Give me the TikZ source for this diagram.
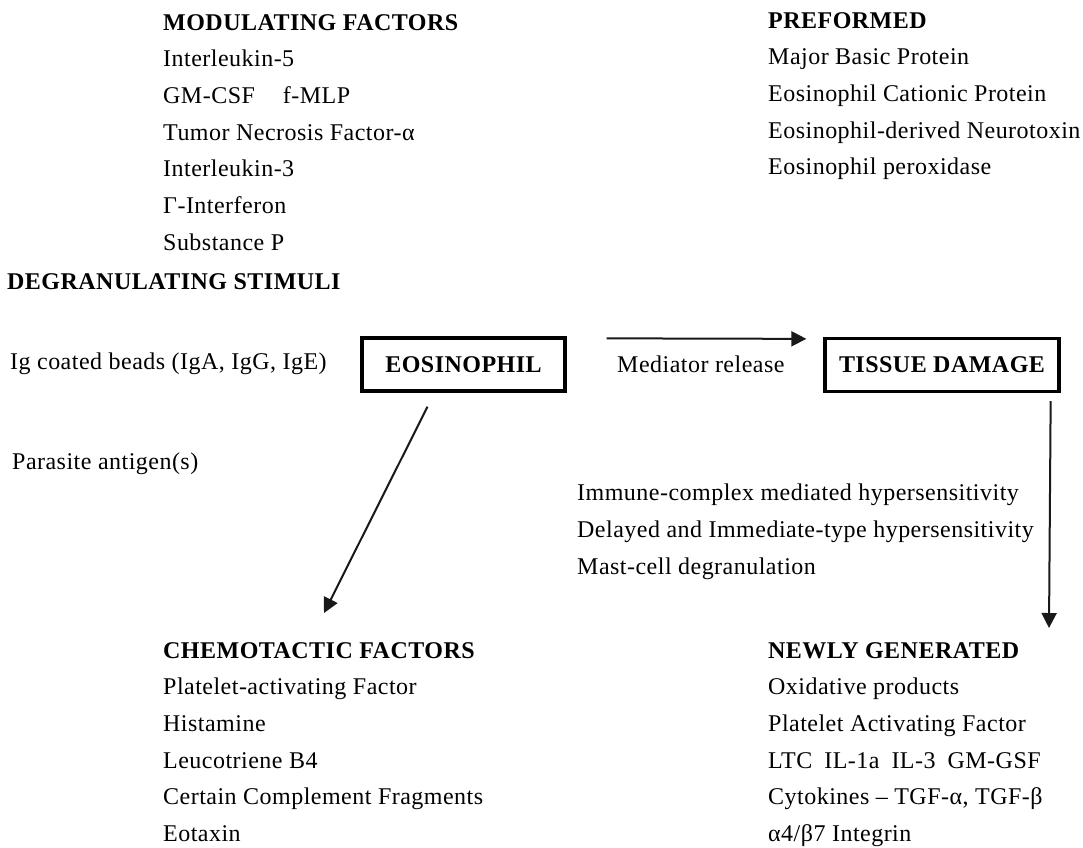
\documentclass[tikz,border=0pt]{standalone}
\usepackage{fontspec}
\setmainfont{Liberation Serif}[LetterSpace=2.0]
\usetikzlibrary{positioning, arrows.meta, calc}

\begin{document}
\begin{tikzpicture}[
    x=1pt, y=-1pt,
    font=\fontsize{24}{36.7}\selectfont,
    >={Triangle[length=15pt, width=15pt]},
    cellbox/.style={
        draw=black, line width=3.3pt,
        rectangle, minimum height=53pt,
        inner sep=0pt, font=\fontsize{24}{36.7}\selectfont\bfseries
    },
    factors/.style={align=left, anchor=north west, inner sep=0pt},
    caption/.style={anchor=west, inner sep=0pt},
    arrow/.style={->, line width=2pt, draw=black!90}
]
\useasboundingbox (0,0) rectangle (1083,847);

% Lists of factors
\node[factors] (modul) at (163,14) {\textbf{MODULATING FACTORS}\\
    Interleukin-5\\
    GM-CSF\hspace{28pt}f-MLP\\
    Tumor Necrosis Factor-α\\
    Interleukin-3\\
    Γ-Interferon\\
    Substance P};
\node[factors] (preform) at (768,12) {\textbf{PREFORMED}\\
    Major Basic Protein\\
    Eosinophil Cationic Protein\\
    Eosinophil-derived Neurotoxin\\
    Eosinophil peroxidase};

% Stimuli
\node[caption] (degran) at (7,282) {\textbf{DEGRANULATING STIMULI}};
\node[caption] (beads) at (10,364) {Ig coated beads (IgA, IgG, IgE)};
\node[caption] (parasite) at (12,464) {Parasite antigen(s)};

% Boxes
\node[cellbox, minimum width=203pt] (eos) at (463.5,364.5) {EOSINOPHIL};
\node[cellbox, minimum width=234pt] (tissue) at (942,365) {TISSUE DAMAGE};
\node[caption] (release) at (617,364) {Mediator release};

\node[factors] (hyper) at (577,484) {Immune-complex mediated hypersensitivity\\
    Delayed and Immediate-type hypersensitivity\\
    Mast-cell degranulation};

\node[factors] (chemo) at (163,642) {\textbf{CHEMOTACTIC FACTORS}\\
    Platelet-activating Factor\\
    Histamine\\
    Leucotriene B4\\
    Certain Complement Fragments\\
    Eotaxin};
\node[factors] (newgen) at (768,642) {\textbf{NEWLY GENERATED}\\
    Oxidative products\\
    Platelet Activating Factor\\
    LTC\hspace{12pt}IL-1a\hspace{12pt}IL-3\hspace{12pt}GM-GSF\\
    Cytokines – TGF-α, TGF-β\\
    α4/β7 Integrin};

% Arrows
\draw[arrow] ($(eos.north east)+(40,2)$) -- ($(tissue.north west)+(-17,2)$);
\draw[arrow] ($(eos.south)+(-36,14)$) -- ($(chemo.north west)+(161,-29)$);
\draw[arrow] ($(tissue.south east)+(-10,8)$) -- ($(newgen.north west)+(281,-14)$);

\end{tikzpicture}
\end{document}
